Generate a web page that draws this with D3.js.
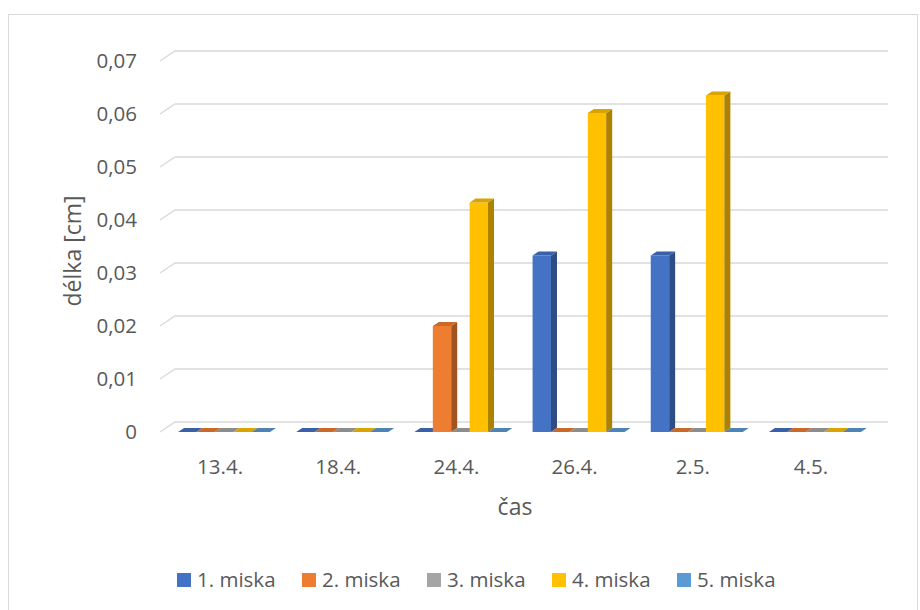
<!DOCTYPE html>
<html>
<head>
<meta charset="utf-8">
<script src="https://cdn.jsdelivr.net/npm/d3@7"></script>
<style>
  body { margin: 0; background: #fff; }
  text { font-family: "Open Sans", "Liberation Sans", sans-serif; fill: #595959; }
</style>
</head>
<body>
<svg width="920" height="610"></svg>
<script>
// Data
var categories = ["13.4.", "18.4.", "24.4.", "26.4.", "2.5.", "4.5."];
var seriesNames = ["1. miska", "2. miska", "3. miska", "4. miska", "5. miska"];
var miska1 = [0, 0, 0, 0.0333, 0.0333, 0];
var miska2 = [0, 0, 0.02, 0, 0, 0];
var miska3 = [0, 0, 0, 0, 0, 0];
var miska4 = [0, 0, 0.0433, 0.0602, 0.0635, 0];
var miska5 = [0, 0, 0, 0, 0, 0];
var yTicks = [0, 0.01, 0.02, 0.03, 0.04, 0.05, 0.06, 0.07];

var seriesValues = [miska1, miska2, miska3, miska4, miska5];
var colors = ["#4472C4", "#ED7D31", "#A5A5A5", "#FFC000", "#5B9BD5"];

var svg = d3.select("svg");

// chart border
svg.append("rect")
  .attr("x", 8.5).attr("y", 14.5)
  .attr("width", 909).attr("height", 600)
  .attr("fill", "none")
  .attr("stroke", "#D9D9D9");

// 3D offsets
var wallDx = 15, wallDy = -10;   // back wall offset
var barDx = 6, barDy = -4;        // bar depth

var y = d3.scaleLinear().domain([0, 0.07]).range([432, 61]);
var x = d3.scaleBand().domain(categories).range([168, 877]);

// gridlines on back wall + side wall diagonals
var grid = svg.append("g");
yTicks.forEach(function(t) {
  var yy = y(t);
  grid.append("path")
    .attr("d", "M160," + yy + "L" + (160 + wallDx) + "," + (yy + wallDy) + "L888," + (yy + wallDy))
    .attr("fill", "none")
    .attr("stroke", "#D9D9D9")
    .attr("stroke-width", 1.3);
  grid.append("text")
    .attr("x", 137)
    .attr("y", yy)
    .attr("dy", "0.35em")
    .attr("text-anchor", "end")
    .attr("font-size", 20.5)
    .text(d3.format(".2f")(t).replace(".", ",").replace(/^0,00$/, "0"));
});

// bars
var inner = d3.scaleBand().domain(d3.range(seriesNames.length)).range([0, 92]);
var w = inner.bandwidth();

function shade(c, k) { return d3.rgb(c).darker(k).toString(); }

var bars = svg.append("g");
categories.forEach(function(cat, ci) {
  var start = x(cat) + x.bandwidth() / 2 - 49;
  seriesValues.forEach(function(vals, si) {
    var v = vals[ci];
    var x0 = start + inner(si);
    var x1 = x0 + w;
    var yb = y(0), yt = y(v);
    var c = colors[si];
    if (v > 0) {
      // front
      bars.append("rect")
        .attr("x", x0).attr("y", yt)
        .attr("width", w).attr("height", yb - yt)
        .attr("fill", c);
      // side
      bars.append("path")
        .attr("d", "M" + x1 + "," + yt + "L" + (x1 + barDx) + "," + (yt + barDy) +
          "L" + (x1 + barDx) + "," + (yb + barDy) + "L" + x1 + "," + yb + "Z")
        .attr("fill", shade(c, 1.1));
    }
    // top
    bars.append("path")
      .attr("d", "M" + x0 + "," + yt + "L" + x1 + "," + yt + "L" + (x1 + barDx) + "," + (yt + barDy) +
        "L" + (x0 + barDx) + "," + (yt + barDy) + "Z")
      .attr("fill", shade(c, 0.45));
  });
});

// category labels
categories.forEach(function(cat) {
  svg.append("text")
    .attr("x", x(cat) + x.bandwidth() / 2 - 7)
    .attr("y", 467)
    .attr("dy", "0.35em")
    .attr("text-anchor", "middle")
    .attr("font-size", 20.5)
    .text(cat);
});

// axis titles
svg.append("text")
  .attr("x", 515).attr("y", 507)
  .attr("dy", "0.35em")
  .attr("text-anchor", "middle")
  .attr("font-size", 23)
  .text("čas");

svg.append("text")
  .attr("transform", "translate(73,251) rotate(-90)")
  .attr("dy", "0.35em")
  .attr("text-anchor", "middle")
  .attr("font-size", 23)
  .text("délka [cm]");

// legend
var legend = svg.append("g");
var lx = 177;
seriesNames.forEach(function(name, i) {
  var g = legend.append("g").attr("transform", "translate(" + lx + ",580)");
  g.append("rect").attr("x", 0).attr("y", -7).attr("width", 14).attr("height", 14).attr("fill", colors[i]);
  g.append("text")
    .attr("x", 20).attr("y", 0).attr("dy", "0.35em")
    .attr("font-size", 20.5)
    .text(name);
  lx += 125;
});
</script>
</body>
</html>
